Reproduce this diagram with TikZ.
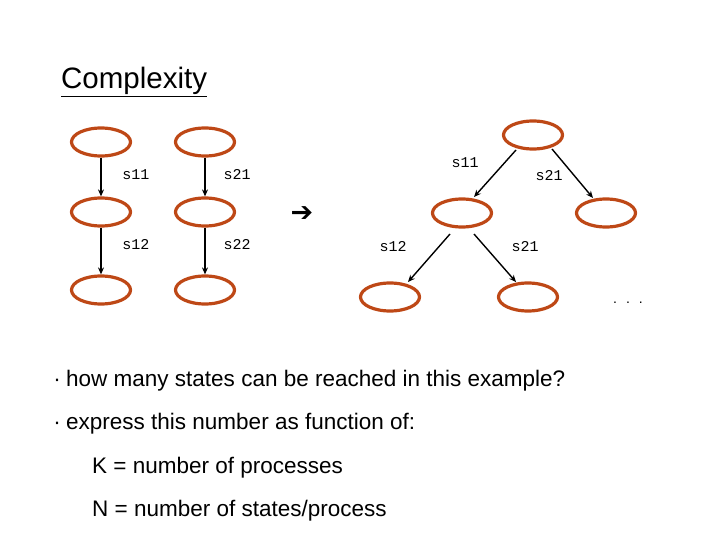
\documentclass[tikz,border=0pt]{standalone}
\usepackage{fontspec}
\setmainfont{Liberation Sans}
\newfontfamily\monof{Liberation Mono}
\newfontfamily\symf{DejaVu Sans}
\usetikzlibrary{arrows.meta,shapes.geometric}
\definecolor{stateor}{RGB}{190,72,22}
\tikzset{
  state/.style={draw=stateor, line width=3.2pt, ellipse, minimum width=59pt, minimum height=28pt, inner sep=0pt},
  trans/.style={draw=black, line width=1.4pt, -{Stealth[length=7pt,width=6pt]}},
  lbl/.style={font=\monof\fontsize{15}{17}\selectfont, inner sep=0pt},
  body/.style={font=\fontsize{22.5}{26}\selectfont, anchor=base west, inner sep=0pt},
  bul/.style={font=\fontsize{22.5}{26}\selectfont, anchor=base, inner sep=0pt}
}
\begin{document}
\begin{tikzpicture}[x=1pt,y=-1pt]
\useasboundingbox (0,0) rectangle (720,540);
% title
\node[anchor=base west, inner sep=0pt, font=\fontsize{29.5}{33}\selectfont] (title) at (61,89) {\underline{Complexity}};
% process 1
\node[state] (a1) at (101,142) {};
\node[state] (a2) at (101,212) {};
\node[state] (a3) at (101,290) {};
% process 2
\node[state] (b1) at (205,142) {};
\node[state] (b2) at (205,212) {};
\node[state] (b3) at (205,290) {};
\draw[trans] (a1) -- (a2);
\draw[trans] (a2) -- (a3);
\draw[trans] (b1) -- (b2);
\draw[trans] (b2) -- (b3);
\node[lbl] (la1) at (136,175) {s11};
\node[lbl] (la2) at (136,245) {s12};
\node[lbl] (lb1) at (237,175) {s21};
\node[lbl] (lb2) at (237,245) {s22};
% arrow sign
\node[font=\symf\fontsize{27}{29}\selectfont, inner sep=0pt] (imp) at (302,214) {➔};
% tree
\node[state] (r) at (533,135) {};
\node[state] (m) at (462,213) {};
\node[state] (rr) at (606,213) {};
\node[state] (bl) at (390,297) {};
\node[state] (br) at (528,297) {};
\draw[trans] ([shift={(-17,15)}]r.center) -- ([shift={(12,-16)}]m.center);
\draw[trans] ([shift={(19,14)}]r.center) -- ([shift={(-13,-15)}]rr.center);
\draw[trans] ([shift={(-12,21)}]m.center) -- ([shift={(18,-15)}]bl.center);
\draw[trans] ([shift={(12,21)}]m.center) -- ([shift={(-12,-15)}]br.center);
\node[lbl] (t1) at (465,163) {s11};
\node[lbl] (t2) at (549,176) {s21};
\node[lbl] (t3) at (393,247) {s12};
\node[lbl] (t4) at (525,247) {s21};
\node[font=\fontsize{14}{16}\selectfont, inner sep=0pt, anchor=base] (dots) at (628,303) {.\hspace{9pt}.\hspace{9pt}.};
% text
\node[bul] (b1dot) at (57,386) {·};
\node[body] (q1) at (66,386) {how many states can be reached in this example?};
\node[bul] (b2dot) at (57,429) {·};
\node[body] (q2) at (66,429) {express this number as function of:};
\node[body] (k) at (92,473) {K = number of processes};
\node[body] (n) at (92,516) {N = number of states/process};
\end{tikzpicture}
\end{document}
